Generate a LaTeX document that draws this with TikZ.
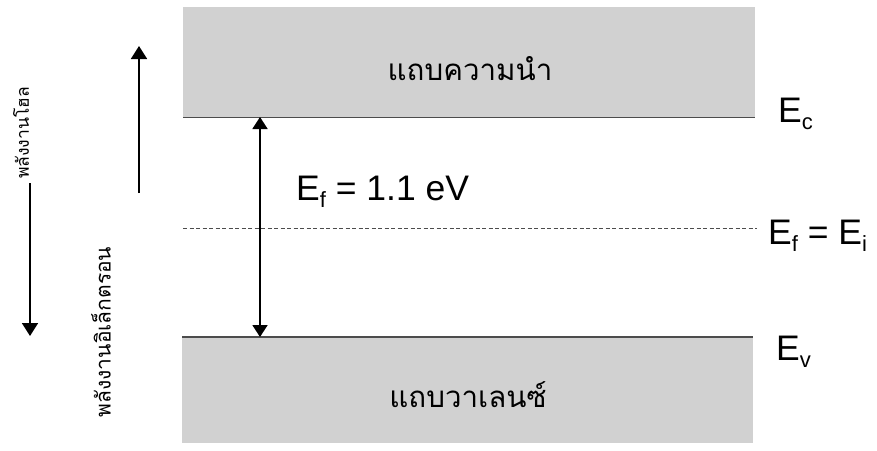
\documentclass[tikz,border=0pt]{standalone}
\usepackage{fontspec}
\setmainfont{Liberation Sans}
\newfontfamily\thaifont[Script=Thai]{Loma}
\usetikzlibrary{arrows.meta}
\tikzset{
  band/.style={fill=black!18, draw=none, inner sep=0pt, minimum width=572pt},
  bandline/.style={draw=black!70, line width=1.6pt},
  arr/.style={line width=1.8pt, -{Triangle[width=16pt,length=13pt]}},
  darr/.style={line width=1.8pt, {Triangle[width=15pt,length=12pt]}-{Triangle[width=15pt,length=12pt]}},
  lvl/.style={font=\fontsize{35.5}{36}\selectfont, inner sep=0pt, anchor=base west},
  thai/.style={font=\thaifont\fontsize{29.5}{32}\selectfont, inner sep=0pt},
  side/.style={font=\thaifont\selectfont, inner sep=0pt, rotate=90}
}
\newcommand{\sbs}[1]{\raisebox{-7pt}{\fontsize{22}{22}\selectfont #1}}
\begin{document}
\begin{tikzpicture}[x=1pt,y=-1pt]
\useasboundingbox (0,0) rectangle (877,450);
% bands
\node[band, anchor=north west, minimum height=110pt] (cb) at (183,7) {};
\node[band, anchor=north west, minimum height=106pt, minimum width=571pt] (vb) at (182,337) {};
\draw[bandline] (cb.south west) -- (cb.south east);
\draw[bandline] (vb.north west) -- (vb.north east);
\node[thai] (cbt) at (470,69) {แถบความนำ};
\node[thai] (vbt) at (468,395) {แถบวาเลนซ์};
% fermi level
\coordinate (fl) at (183,228);
\coordinate (fr) at (757,228);
\draw[black!70, dashed, dash pattern=on 4pt off 2.5pt, line width=0.7pt] (fl) -- (fr);
% gap arrow
\coordinate (gt) at (260,117);
\coordinate (gb) at (260,337);
\draw[darr] (gt) -- (gb);
\node[lvl] (eg) at (296,200) {E\sbs{f} = 1.1 eV};
% level labels
\node[lvl] (ec) at (778,122) {E\sbs{c}};
\node[lvl] (efi) at (768,244) {E\sbs{f} = E\sbs{i}};
\node[lvl] (ev) at (776,360) {E\sbs{v}};
% side labels
\node[side, font=\thaifont\fontsize{17.5}{18}\selectfont] (hole) at (21,133) {พลังงานโฮล};
\coordinate (ha) at (30,183);
\coordinate (hb) at (30,336);
\draw[arr] (ha) -- (hb);
\node[side, font=\thaifont\fontsize{21}{22}\selectfont] (elec) at (101,332) {พลังงานอิเล็กตรอน};
\coordinate (ea) at (139,193);
\coordinate (eb) at (139,46);
\draw[arr] (ea) -- (eb);
\end{tikzpicture}
\end{document}
